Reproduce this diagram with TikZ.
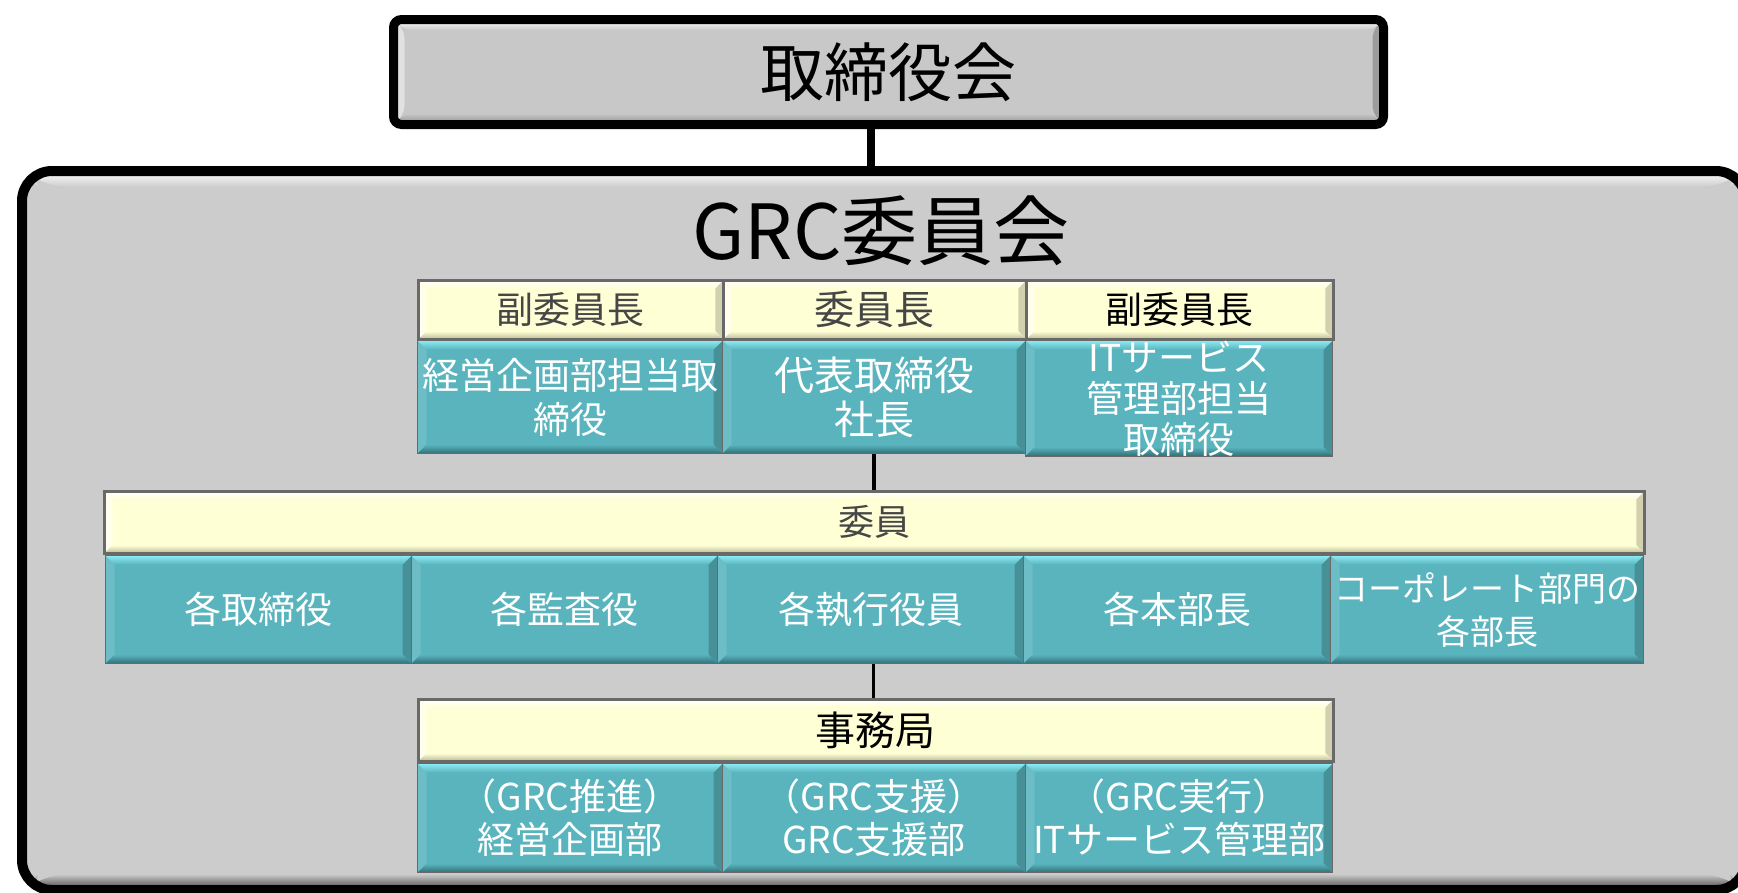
\documentclass[tikz,border=0pt]{standalone}
\usepackage{fontspec}
\setmainfont{Noto Sans CJK JP}
\definecolor{bgGray}{RGB}{204,204,204}
\definecolor{boxGray}{RGB}{200,200,200}
\definecolor{tealC}{RGB}{89,180,190}
\definecolor{tealL}{RGB}{140,234,242}
\definecolor{tealD}{RGB}{50,110,118}
\definecolor{yelC}{RGB}{255,255,214}
\definecolor{yelD}{RGB}{185,185,145}
\definecolor{txtGray}{RGB}{70,70,70}
\definecolor{cellEdge}{RGB}{105,105,105}
\tikzset{
  bevel/.style n args={6}{path picture={
    \fill[#4] (path picture bounding box.north west) -- ([xshift=#6,yshift=-#6]path picture bounding box.north west) -- ([xshift=#6,yshift=#6]path picture bounding box.south west) -- (path picture bounding box.south west) -- cycle;
    \fill[#5] (path picture bounding box.north east) -- ([xshift=-#6,yshift=-#6]path picture bounding box.north east) -- ([xshift=-#6,yshift=#6]path picture bounding box.south east) -- (path picture bounding box.south east) -- cycle;
    \shade[top color=#1, bottom color=#2] (path picture bounding box.north west) -- (path picture bounding box.north east) -- ([xshift=-#6,yshift=-#6]path picture bounding box.north east) -- ([xshift=#6,yshift=-#6]path picture bounding box.north west) -- cycle;
    \shade[top color=#2, bottom color=#3] (path picture bounding box.south west) -- ([xshift=#6,yshift=#6]path picture bounding box.south west) -- ([xshift=-#6,yshift=#6]path picture bounding box.south east) -- (path picture bounding box.south east) -- cycle;
  }},
  cellbase/.style={anchor=north west, inner sep=0pt, align=center, draw=cellEdge},
  tealcell/.style={cellbase, line width=1.2pt, fill=tealC, text=white,
    bevel={tealL}{tealC}{tealD}{tealC!88!white}{tealC!80!black}{9pt},
    font=\fontsize{37}{44}\selectfont},
  yelcell/.style={cellbase, line width=2.5pt, fill=yelC, text=txtGray,
    bevel={white}{yelC}{yelD}{yelC!50!white}{yelC!82!black}{8pt},
    font=\fontsize{37}{44}\selectfont},
  bigbox/.style={anchor=north west, draw=black, line width=10pt, rounded corners=30pt, fill=bgGray,
    bevel={white}{bgGray}{black!75}{bgGray}{bgGray}{16pt}},
  topbox/.style={anchor=north west, draw=black, line width=9pt, rounded corners=8pt, fill=boxGray,
    bevel={white}{boxGray}{black!45}{boxGray!55!white}{boxGray!78!black}{11pt},
    font=\fontsize{64}{64}\selectfont},
  thickconn/.style={draw=black, line width=8pt},
  conn/.style={draw=black, line width=3.5pt}
}
\begin{document}
\begin{tikzpicture}[x=1pt,y=-1pt]
\useasboundingbox (0,0) rectangle (1738,892);
\fill[white] (0,0) rectangle (1738,892);

% containers
\node[bigbox, minimum width=1724pt, minimum height=719pt] (grc) at (17,166) {};
\node[topbox, minimum width=990pt, minimum height=105pt] (board) at (389,15) {取締役会};
\coordinate (bconn) at ([xshift=-18pt]board.south);
\draw[thickconn] (bconn) -- (bconn |- grc.north);
\node[font=\fontsize{76}{76}\selectfont] (grctitle) at (881,231) {GRC委員会};

% row 1
\node[yelcell, minimum width=305pt, minimum height=59pt] (h1) at (417,279) {副委員長};
\node[yelcell, minimum width=303pt, minimum height=59pt, font=\fontsize{40}{44}\selectfont] (h2) at (722,279) {委員長};
\node[yelcell, minimum width=307pt, minimum height=59pt, text=black] (h3) at (1025,279) {副委員長};
\node[tealcell, minimum width=305pt, minimum height=113pt] (t1) at (417,340) {経営企画部担当取\\締役};
\node[tealcell, minimum width=303pt, minimum height=113pt, font=\fontsize{40}{44}\selectfont] (t2) at (722,340) {代表取締役\\社長};
\node[tealcell, minimum width=307pt, minimum height=113pt, font=\fontsize{37}{41}\selectfont] (t3) at (1025,340) {ITサービス\\管理部担当\\取締役};

% members
\node[yelcell, minimum width=1540pt, minimum height=62pt, font=\fontsize{36}{40}\selectfont] (iin) at (103,490) {委員};
\draw[conn] (t2.south) -- (t2.south |- iin.north);
\node[tealcell, minimum width=306pt, minimum height=108pt] (m1) at (105,555) {各取締役};
\node[tealcell, minimum width=306pt, minimum height=108pt] (m2) at (411,555) {各監査役};
\node[tealcell, minimum width=306pt, minimum height=108pt] (m3) at (717,555) {各執行役員};
\node[tealcell, minimum width=307pt, minimum height=108pt] (m4) at (1023,555) {各本部長};
\node[tealcell, minimum width=313pt, minimum height=108pt, font=\fontsize{34}{43}\selectfont] (m5) at (1330,555) {コーポレート部門の\\各部長};

% secretariat
\node[yelcell, minimum width=915pt, minimum height=62pt, text=black, font=\fontsize{40}{44}\selectfont] (jim) at (417,698) {事務局};
\draw[conn] ([xshift=3pt]m3.south) -- ([xshift=3pt]m3.south |- jim.north);
\node[tealcell, minimum width=305pt, minimum height=109pt, font=\fontsize{37}{43}\selectfont] (s1) at (417,763) {（GRC推進）\\経営企画部};
\node[tealcell, minimum width=303pt, minimum height=109pt, font=\fontsize{37}{43}\selectfont] (s2) at (722,763) {（GRC支援）\\GRC支援部};
\node[tealcell, minimum width=307pt, minimum height=109pt, font=\fontsize{37}{43}\selectfont] (s3) at (1025,763) {（GRC実行）\\ITサービス管理部};
\end{tikzpicture}
\end{document}
